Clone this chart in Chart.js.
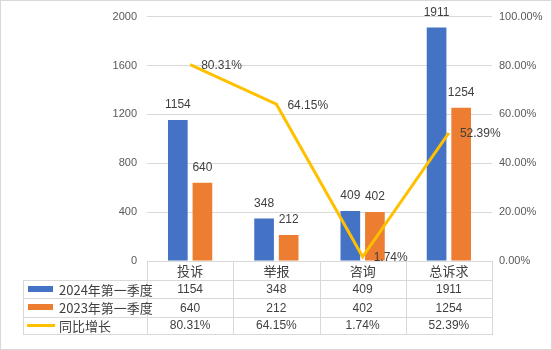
<!DOCTYPE html>
<html lang="zh">
<head>
  <meta charset="UTF-8" />
  <title>同比增长</title>
  <script src="https://cdn.jsdelivr.net/npm/chart.js"></script>
  <style>
    html, body { margin: 0; padding: 0; background: #ffffff; }
    #wrap { position: relative; width: 552px; height: 350px; }
  </style>
</head>
<body>
  <div id="wrap"><canvas id="chart"></canvas></div>

  <script>
    // data
    const categories = ["投诉", "举报", "咨询", "总诉求"];
    const q1_2024 = [1154, 348, 409, 1911];
    const q1_2023 = [640, 212, 402, 1254];
    const yoyGrowth = [80.31, 64.15, 1.74, 52.39];
    const seriesNames = ["2024年第一季度", "2023年第一季度", "同比增长"];

    const FONT = "'Liberation Sans', 'Noto Sans CJK SC', sans-serif";
    const CJK = "'Noto Sans CJK SC', 'Liberation Sans', sans-serif";
    const BLUE = "#4472C4", ORANGE = "#ED7D31", GOLD = "#FFC000";
    const GRID = "#D9D9D9";

    const pct = v => v.toFixed(2) + "%";

    // value labels above bars / right of line points
    const valueLabels = {
      id: "valueLabels",
      afterDatasetsDraw(chart) {
        const ctx = chart.ctx;
        ctx.save();
        ctx.font = "12px " + FONT;
        ctx.fillStyle = "#404040";
        chart.data.datasets.forEach((ds, di) => {
          const meta = chart.getDatasetMeta(di);
          meta.data.forEach((el, i) => {
            if (ds.type === "line") {
              ctx.textAlign = "left";
              ctx.textBaseline = "middle";
              ctx.fillText(pct(ds.data[i]), el.x + 11, el.y + 1);
            } else {
              ctx.textAlign = "center";
              ctx.textBaseline = "middle";
              ctx.fillText(String(ds.data[i]), el.x, el.y - 15);
            }
          });
        });
        ctx.restore();
      }
    };

    // data table under the plot + outer frame
    const dataTable = {
      id: "dataTable",
      afterDraw(chart) {
        const ctx = chart.ctx;
        const area = chart.chartArea;
        const x = chart.scales.x;
        const left = area.left, right = area.right, top = area.bottom;
        const colW = (right - left) / categories.length;
        const legendLeft = 23;
        const rows = [top, top + 19, top + 37, top + 55.5, top + 72.5];

        ctx.save();
        ctx.strokeStyle = GRID;
        ctx.lineWidth = 1;
        ctx.beginPath();
        ctx.moveTo(left, Math.round(rows[0]) + 0.5);
        ctx.lineTo(right, Math.round(rows[0]) + 0.5);
        for (let r = 1; r < rows.length; r++) {
          const y = Math.round(rows[r]) + 0.5;
          ctx.moveTo(legendLeft, y);
          ctx.lineTo(right, y);
        }
        ctx.moveTo(legendLeft + 0.5, Math.round(rows[1]));
        ctx.lineTo(legendLeft + 0.5, Math.round(rows[4]) + 1);
        for (let c = 0; c <= categories.length; c++) {
          const cx = Math.round(left + c * colW) + 0.5;
          ctx.moveTo(cx, Math.round(rows[0]));
          ctx.lineTo(cx, Math.round(rows[4]) + 1);
        }
        ctx.stroke();

        ctx.fillStyle = "#404040";
        ctx.textBaseline = "middle";
        ctx.textAlign = "center";
        ctx.font = "13px " + CJK;
        categories.forEach((c, i) => {
          ctx.fillText(c, x.getPixelForValue(i), (rows[0] + rows[1]) / 2 + 1);
        });

        const tableRows = [
          q1_2024.map(String),
          q1_2023.map(String),
          yoyGrowth.map(pct)
        ];
        ctx.font = "12px " + FONT;
        tableRows.forEach((vals, r) => {
          const cy = (rows[r + 1] + rows[r + 2]) / 2 + 1;
          vals.forEach((v, i) => ctx.fillText(v, x.getPixelForValue(i), cy));
        });

        // legend keys in first column
        ctx.textAlign = "left";
        ctx.font = "13px " + CJK;
        const keyColors = [BLUE, ORANGE, GOLD];
        seriesNames.forEach((name, r) => {
          const cy = (rows[r + 1] + rows[r + 2]) / 2;
          ctx.fillStyle = keyColors[r];
          if (r < 2) ctx.fillRect(28, Math.round(cy) - 3, 25, 6);
          else ctx.fillRect(27, Math.round(cy) - 1, 28, 3);
          ctx.fillStyle = "#404040";
          ctx.fillText(name, 59, cy + 1);
        });

        ctx.strokeStyle = GRID;
        ctx.strokeRect(0.5, 0.5, chart.width - 1, chart.height - 1);
        ctx.restore();
      }
    };

    new Chart(document.getElementById("chart"), {
      type: "bar",
      data: {
        labels: categories,
        datasets: [
          {
            type: "line",
            label: seriesNames[2],
            data: yoyGrowth,
            yAxisID: "y1",
            borderColor: GOLD,
            backgroundColor: GOLD,
            borderWidth: 3,
            pointRadius: 0,
            tension: 0,
            order: 0
          },
          {
            label: seriesNames[0],
            data: q1_2024,
            yAxisID: "y",
            backgroundColor: BLUE,
            barPercentage: 0.8,
            categoryPercentage: 0.57,
            order: 1
          },
          {
            label: seriesNames[1],
            data: q1_2023,
            yAxisID: "y",
            backgroundColor: ORANGE,
            barPercentage: 0.8,
            categoryPercentage: 0.57,
            order: 1
          }
        ]
      },
      options: {
        responsive: true,
        maintainAspectRatio: false,
        animation: false,
        layout: { padding: { top: 15, bottom: 89, left: 0, right: 0 } },
        plugins: {
          legend: { display: false },
          tooltip: { enabled: false }
        },
        scales: {
          x: { display: false },
          y: {
            position: "left",
            min: 0,
            max: 2000,
            ticks: {
              stepSize: 400,
              padding: 10,
              color: "#595959",
              font: { size: 11, family: FONT },
              callback: v => String(v)
            },
            grid: { color: GRID, drawTicks: false },
            border: { display: false },
            afterFit(scale) { scale.width = 147; }
          },
          y1: {
            position: "right",
            min: 0,
            max: 100,
            ticks: {
              stepSize: 20,
              padding: 7,
              color: "#595959",
              font: { size: 11, family: FONT },
              callback: v => pct(v)
            },
            grid: { display: false, drawTicks: false },
            border: { display: false },
            afterFit(scale) { scale.width = 60; }
          }
        }
      },
      plugins: [valueLabels, dataTable]
    });
  </script>
</body>
</html>
